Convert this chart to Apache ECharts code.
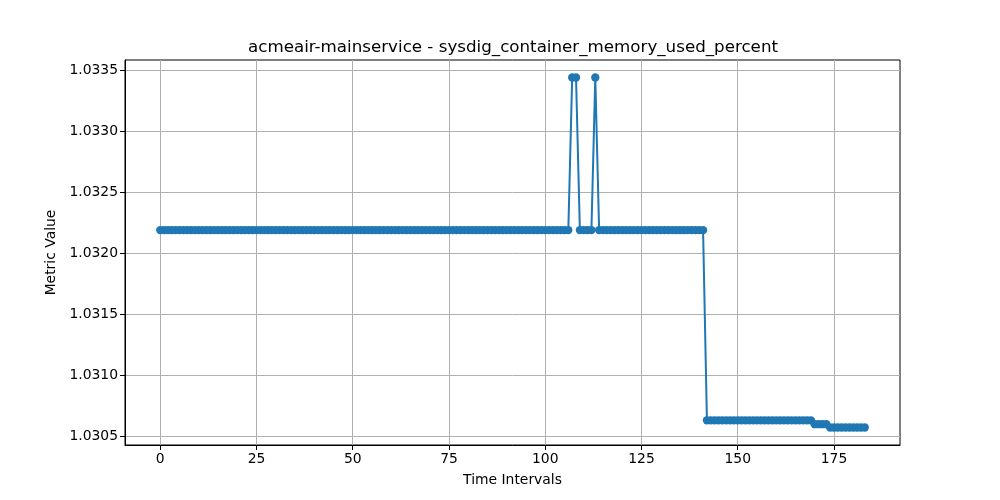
<!DOCTYPE html>
<html lang="en">
<head>
    <meta charset="utf-8">
    <title>acmeair-mainservice - sysdig_container_memory_used_percent</title>
    <style>
        html, body { margin: 0; padding: 0; background: #fff; }
        #chart { width: 1000px; height: 500px; }
    </style>
</head>
<body>
<div id="chart"></div>
<script src="https://cdn.jsdelivr.net/npm/echarts@6/dist/echarts.min.js"></script>
<script type="text/javascript">

// memory used percent, one value per time interval (0..183)
var memValues = [
    1.032192, 1.032192, 1.032192, 1.032192, 1.032192, 1.032192, 1.032192, 1.032192, 1.032192, 1.032192,
    1.032192, 1.032192, 1.032192, 1.032192, 1.032192, 1.032192, 1.032192, 1.032192, 1.032192, 1.032192,
    1.032192, 1.032192, 1.032192, 1.032192, 1.032192, 1.032192, 1.032192, 1.032192, 1.032192, 1.032192,
    1.032192, 1.032192, 1.032192, 1.032192, 1.032192, 1.032192, 1.032192, 1.032192, 1.032192, 1.032192,
    1.032192, 1.032192, 1.032192, 1.032192, 1.032192, 1.032192, 1.032192, 1.032192, 1.032192, 1.032192,
    1.032192, 1.032192, 1.032192, 1.032192, 1.032192, 1.032192, 1.032192, 1.032192, 1.032192, 1.032192,
    1.032192, 1.032192, 1.032192, 1.032192, 1.032192, 1.032192, 1.032192, 1.032192, 1.032192, 1.032192,
    1.032192, 1.032192, 1.032192, 1.032192, 1.032192, 1.032192, 1.032192, 1.032192, 1.032192, 1.032192,
    1.032192, 1.032192, 1.032192, 1.032192, 1.032192, 1.032192, 1.032192, 1.032192, 1.032192, 1.032192,
    1.032192, 1.032192, 1.032192, 1.032192, 1.032192, 1.032192, 1.032192, 1.032192, 1.032192, 1.032192,
    1.032192, 1.032192, 1.032192, 1.032192, 1.032192, 1.032192, 1.032192, 1.033443, 1.033443, 1.032192,
    1.032192, 1.032192, 1.032192, 1.033443, 1.032192, 1.032192, 1.032192, 1.032192, 1.032192, 1.032192,
    1.032192, 1.032192, 1.032192, 1.032192, 1.032192, 1.032192, 1.032192, 1.032192, 1.032192, 1.032192,
    1.032192, 1.032192, 1.032192, 1.032192, 1.032192, 1.032192, 1.032192, 1.032192, 1.032192, 1.032192,
    1.032192, 1.032192, 1.030633, 1.030633, 1.030633, 1.030633, 1.030633, 1.030633, 1.030633, 1.030633,
    1.030633, 1.030633, 1.030633, 1.030633, 1.030633, 1.030633, 1.030633, 1.030633, 1.030633, 1.030633,
    1.030633, 1.030633, 1.030633, 1.030633, 1.030633, 1.030633, 1.030633, 1.030633, 1.030633, 1.030633,
    1.030601, 1.030601, 1.030601, 1.030601, 1.030574, 1.030574, 1.030574, 1.030574, 1.030574, 1.030574,
    1.030574, 1.030574, 1.030574, 1.030574
];

var xTicks = [0, 25, 50, 75, 100, 125, 150, 175];
var yTicks = [1.0305, 1.0310, 1.0315, 1.0320, 1.0325, 1.0330, 1.0335];

var chartTitle = 'acmeair-mainservice - sysdig_container_memory_used_percent';
var xName = 'Time Intervals';
var yName = 'Metric Value';

var points = memValues.map(function (v, i) { return [i, v]; });

// matplotlib style 5% margins around the data
var xMin = 0, xMax = memValues.length - 1;
var yMin = Math.min.apply(null, memValues), yMax = Math.max.apply(null, memValues);
var xPad = (xMax - xMin) * 0.05, yPad = (yMax - yMin) * 0.05;

var font = 'DejaVu Sans';
var chart = echarts.init(document.getElementById('chart'), null, { renderer: 'canvas' });

var option = {
    animation: false,
    backgroundColor: '#fff',
    title: {
        text: chartTitle,
        left: 508,
        top: 34,
        textAlign: 'center',
        textStyle: { fontFamily: font, fontSize: 16.7, fontWeight: 'normal', color: '#000' }
    },
    grid: {
        left: 125, right: 100, top: 60, bottom: 55,
        show: true, borderColor: '#000', borderWidth: 1, backgroundColor: 'transparent'
    },
    xAxis: {
        type: 'value',
        min: xMin - xPad,
        max: xMax + xPad,
        name: xName,
        nameLocation: 'middle',
        nameGap: 28,
        nameTextStyle: { fontFamily: font, fontSize: 13.9, color: '#000' },
        axisLine: { show: true, onZero: false, lineStyle: { color: '#000', width: 1 } },
        axisTick: { show: true, length: 5, customValues: xTicks, lineStyle: { color: '#000' } },
        axisLabel: {
            customValues: xTicks, margin: 7,
            fontFamily: font, fontSize: 13.9, color: '#000'
        },
        splitLine: { show: true, lineStyle: { color: '#b0b0b0', width: 1 } }
    },
    yAxis: {
        type: 'value',
        min: yMin - yPad,
        max: yMax + yPad,
        name: yName,
        nameLocation: 'middle',
        nameGap: 63,
        nameTextStyle: { fontFamily: font, fontSize: 13.9, color: '#000' },
        axisLine: { show: true, onZero: false, lineStyle: { color: '#000', width: 1 } },
        axisTick: { show: true, length: 5, customValues: yTicks, lineStyle: { color: '#000' } },
        axisLabel: {
            customValues: yTicks, margin: 7,
            fontFamily: font, fontSize: 13.9, color: '#000',
            formatter: function (v) { return v.toFixed(4); }
        },
        splitLine: { show: true, lineStyle: { color: '#b0b0b0', width: 1 } }
    },
    series: [{
        type: 'line',
        data: points,
        symbol: 'circle',
        symbolSize: 8.3,
        showAllSymbol: true,
        itemStyle: { color: '#1f77b4' },
        lineStyle: { color: '#1f77b4', width: 2 }
    }]
};
chart.setOption(option);

</script>
</body>
</html>
